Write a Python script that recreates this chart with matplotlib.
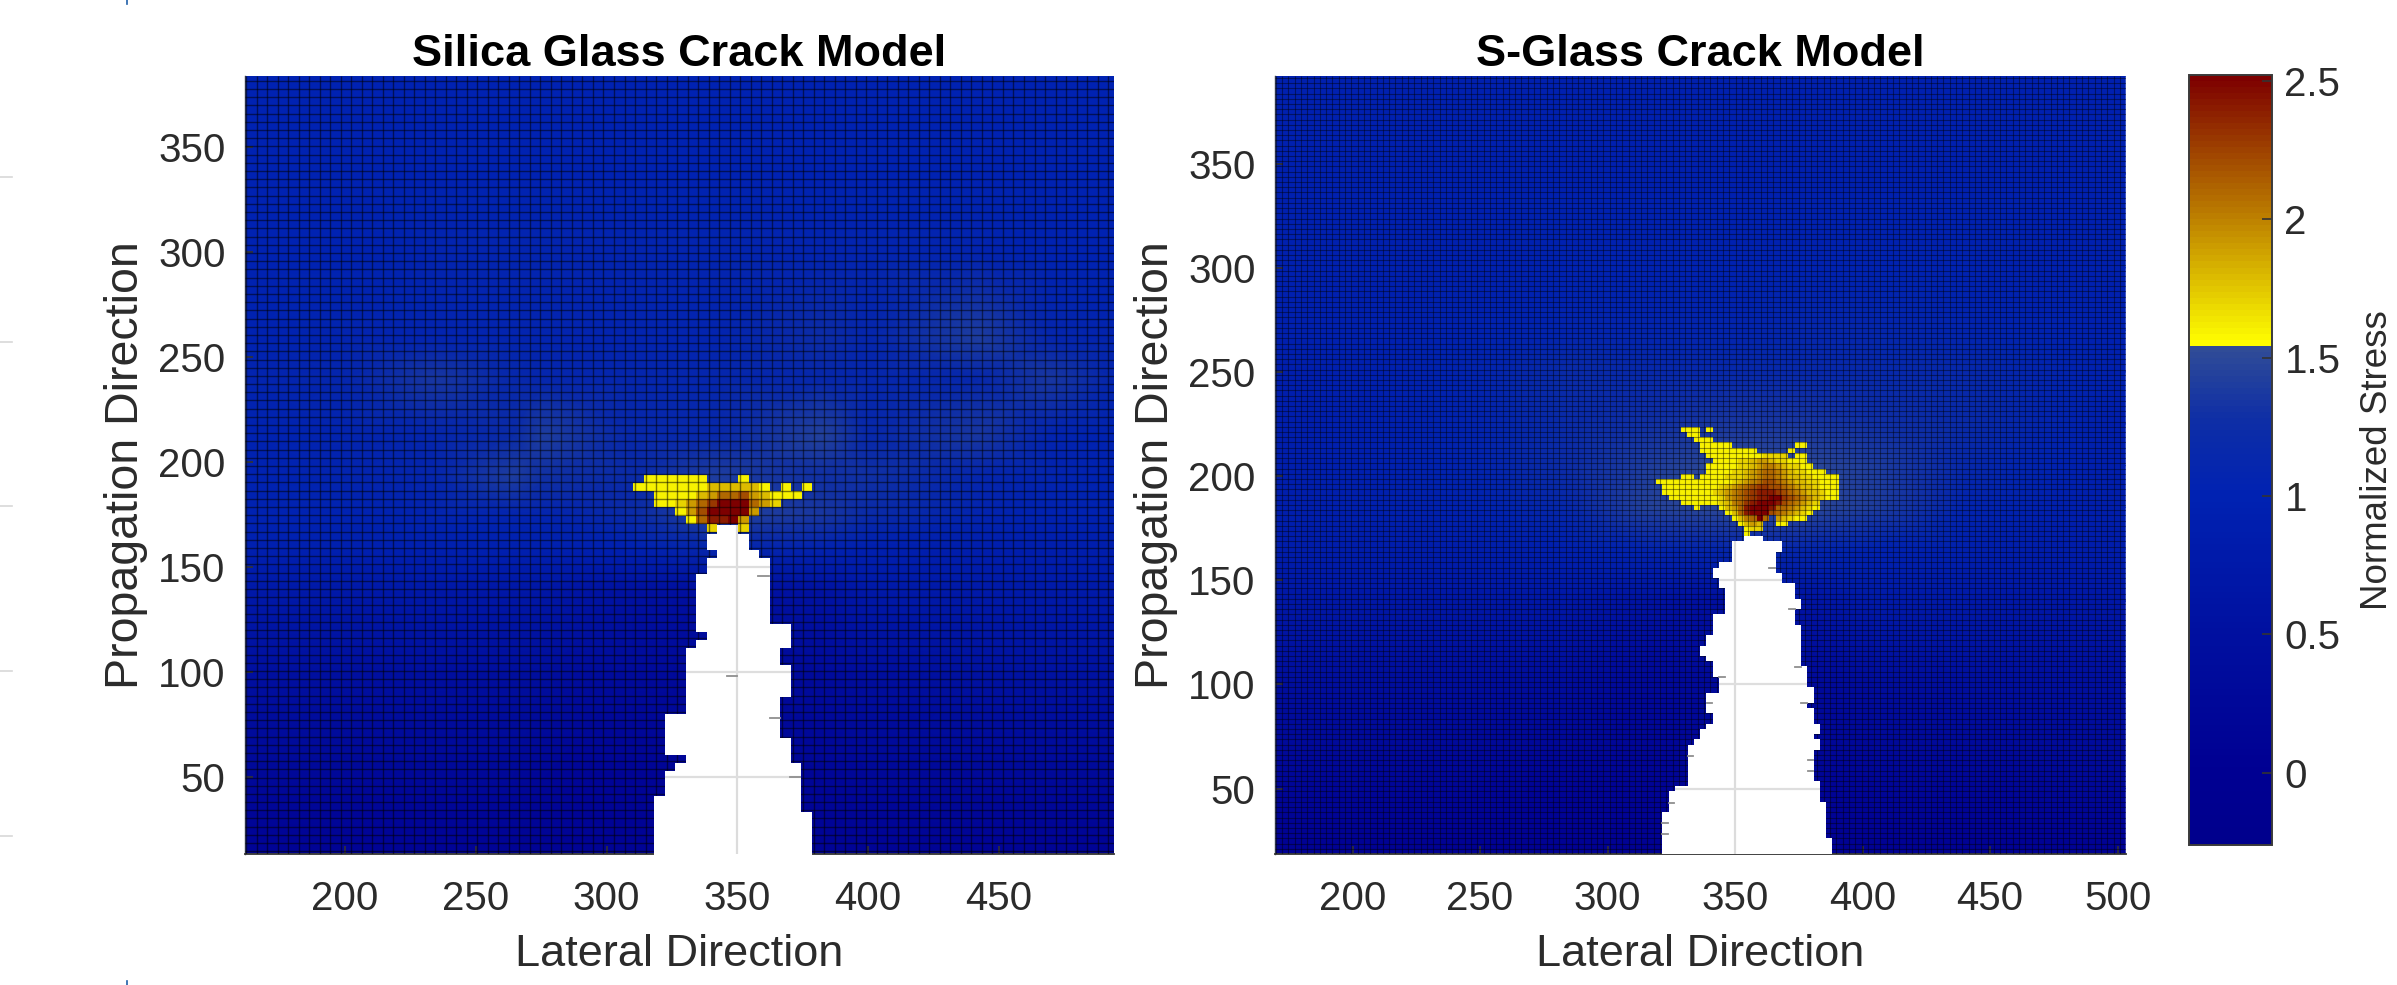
import numpy as np
import matplotlib
matplotlib.use("Agg")
import matplotlib.pyplot as plt
from matplotlib.colors import LinearSegmentedColormap, Normalize
from matplotlib.lines import Line2D

plt.rcParams["font.family"] = ["Liberation Sans", "DejaVu Sans"]

W, H = 2397, 985
TEXT = "#2b2b2b"

# colour limits
VMIN, VMAX, BREAK = -0.26, 2.52, 1.555
cbar_ticks = [0, 0.5, 1, 1.5, 2, 2.5]
cbar_labels = ["0", "0.5", "1", "1.5", "2", "2.5"]

# --- Silica glass: smooth background stress (coarse read-out) ---
silica_bg_x = [162, 200, 234, 264, 276, 310, 340, 383, 400, 442, 470, 494]
silica_bg_y = [14, 50, 100, 140, 160, 175, 193, 213, 240, 259, 300, 340, 384]
silica_bg = [
    [.10, .10, .10, .10, .10, .10, .10, .10, .10, .10, .10, .10],
    [.25, .25, .25, .25, .20, .15, .15, .20, .25, .30, .30, .30],
    [.50, .50, .50, .45, .45, .35, .30, .35, .45, .55, .55, .55],
    [.75, .75, .75, .70, .70, .55, .50, .60, .75, .80, .80, .80],
    [.95, .95, .95, .95, .95, 1.0, 1.15, 1.05, .95, .90, .90, .90],
    [1.0, 1.0, 1.05, 1.05, 1.05, 1.2, 1.45, 1.35, 1.2, 1.05, 1.0, 1.0],
    [1.0, 1.05, 1.1, 1.4, 1.3, 1.2, 1.4, 1.3, 1.3, 1.1, 1.05, 1.0],
    [1.0, 1.05, 1.1, 1.2, 1.4, 1.15, 1.15, 1.45, 1.15, 1.35, 1.05, 1.0],
    [1.05, 1.1, 1.35, 1.15, 1.1, 1.1, 1.1, 1.15, 1.1, 1.15, 1.35, 1.1],
    [1.0, 1.05, 1.05, 1.05, 1.05, 1.05, 1.05, 1.25, 1.1, 1.4, 1.1, 1.05],
    [1.0, 1.0, 1.05, 1.05, 1.05, 1.05, 1.05, 1.05, 1.05, 1.05, 1.0, 1.0],
    [1.0, 1.0, 1.0, 1.0, 1.0, 1.0, 1.0, 1.0, 1.0, 1.0, 1.0, 1.0],
    [1.0, 1.0, 1.0, 1.0, 1.0, 1.0, 1.0, 1.0, 1.0, 1.0, 1.0, 1.0],
]

# hot cells, top row first: '.' = below threshold, digit d = 1.6 + 0.1 * d
silica_hot = [
    ".000000...0......",
    "0000000222220.0.0",
    "..00002355632000.",
    "..001357999531...",
    "....03699993.....",
    ".....058893......",
    ".......1..1......",
]
# crack: first / last white cell edge per row, top row first
silica_crack_l = [6, 5, 5, 6, 5, 5, 4, 4, 4, 4, 4, 4, 4, 5, 4, 3, 3, 3, 3, 3, 3,
                  3, 3, 1, 1, 1, 1, 1, 3, 2, 1, 1, 1, 0, 0, 0, 0, 0, 0, 0, 0]
silica_crack_r = [8, 9, 9, 10, 11, 11, 11, 11, 11, 11, 11, 11, 13, 13, 13, 12, 12, 13, 13, 13, 13,
                  12, 12, 12, 12, 12, 13, 13, 13, 14, 14, 14, 14, 14, 14, 15, 15, 15, 15, 15, 15]
silica_dashes = [(358, 362, 146), (346, 350, 98), (362.4, 366.2, 78), (370, 374, 50)]

# --- S-glass ---
sglass_bg_x = [170, 210, 250, 285, 315, 345, 375, 405, 440, 475, 503]
sglass_bg_y = [19, 50, 100, 140, 165, 185, 205, 225, 250, 270, 300, 345, 392]
sglass_bg = [
    [.05, .05, .05, .05, .05, .05, .05, .05, .05, .05, .05],
    [.20, .20, .20, .15, .15, .15, .15, .20, .20, .25, .25],
    [.45, .45, .45, .40, .30, .30, .30, .40, .50, .50, .50],
    [.70, .70, .70, .70, .60, .50, .60, .80, .75, .70, .70],
    [.85, .85, .90, .95, 1.05, 1.1, 1.1, 1.0, .95, .85, .85],
    [.90, .95, 1.0, 1.15, 1.45, 1.5, 1.5, 1.4, 1.05, .95, .90],
    [.90, .95, 1.05, 1.25, 1.4, 1.5, 1.5, 1.4, 1.15, 1.0, .90],
    [.90, .95, 1.05, 1.2, 1.3, 1.35, 1.35, 1.3, 1.2, 1.05, .90],
    [.90, .95, 1.05, 1.2, 1.15, 1.15, 1.15, 1.15, 1.15, 1.05, .95],
    [.95, .95, 1.0, 1.05, 1.05, 1.05, 1.1, 1.1, 1.05, 1.0, .95],
    [.95, .95, .95, 1.0, 1.0, 1.0, 1.0, 1.0, 1.0, .95, .95],
    [.95, .95, .95, .95, .95, .95, .95, .95, .95, .95, .95],
    [.95, .95, .95, .95, .95, .95, .95, .95, .95, .95, .95],
]
sglass_hot = [
    "....000.0....................",
    ".....00......................",
    "......000....................",
    ".......00000..........00.....",
    ".......000000000.....0.......",
    "........0000000001111.00.....",
    ".........000011233211000.....",
    "........00000112344321100....",
    "........0000112345543211000..",
    "....00.0000111234554322110000",
    "00000000000012345665432211000",
    ".0000000001234567766543221000",
    ".0000000012345678887654322100",
    "..000000001345678899765432100",
    "....0000001245789998654321...",
    "......0...0235899985543210...",
    "...........02589996543210....",
    "............024595.32100.....",
    ".............0232..00........",
    "..............011............",
    "..............0..............",
]
sglass_crack_l = [13, 11, 11, 11, 11, 9, 8, 8, 9, 9, 10, 10, 10, 10, 10, 8, 8, 8, 8, 7, 7,
                  6, 6, 7, 8, 8, 8, 9, 9, 9, 7, 7, 7, 7, 8, 8, 7, 6, 6, 5, 4,
                  4, 4, 4, 4, 4, 4, 4, 2, 1, 1, 1, 1, 0, 0, 0, 0, 0, 0, 0, 0]
sglass_crack_r = [16, 19, 19, 18, 18, 18, 18, 19, 19, 21, 21, 21, 22, 22, 21, 21, 21, 22, 22, 22, 22,
                  22, 22, 22, 22, 23, 23, 23, 23, 24, 24, 24, 23, 24, 24, 24, 25, 25, 24, 25, 25,
                  24, 24, 24, 24, 24, 24, 25, 25, 25, 25, 26, 26, 26, 26, 26, 26, 26, 27, 27, 27]
sglass_dashes = [(363.5, 365.8, 156), (371.2, 373.5, 136), (373.5, 375.8, 108.4), (343.9, 346.1, 103.6),
                 (376, 378.1, 91), (338.9, 341.1, 91), (331.4, 333.7, 65.8), (378.5, 380.7, 63.5),
                 (378.5, 380.7, 58.4), (324, 326.2, 43.2), (321.5, 323.7, 33.3), (321.5, 323.7, 28.4)]

x_ticks = {"silica": [200, 250, 300, 350, 400, 450], "sglass": [200, 250, 300, 350, 400, 450, 500]}
y_ticks = [50, 100, 150, 200, 250, 300, 350]


def cpos(v):
    return (v - VMIN) / (VMAX - VMIN)


cmap = LinearSegmentedColormap.from_list(
    "stress",
    [(0.0, (0, 0, 140 / 255)),
     (cpos(0), (0, 0, 146 / 255)),
     (cpos(0.5), (0, 16 / 255, 160 / 255)),
     (cpos(1.0), (0, 34 / 255, 178 / 255)),
     (cpos(1.28), (14 / 255, 46 / 255, 166 / 255)),
     (cpos(BREAK) - 0.001, (50 / 255, 78 / 255, 150 / 255)),
     (cpos(BREAK), (1, 1, 0)),
     (cpos(2.0), (190 / 255, 130 / 255, 0)),
     (1.0, (125 / 255, 0, 0))],
    N=128,
)
norm = Normalize(VMIN, VMAX)


def axes_px(x0, y0, x1, y1):
    return [x0 / W, 1 - y1 / H, (x1 - x0) / W, (y1 - y0) / H]


def hot_to_array(rows):
    arr = np.full((len(rows), len(rows[0])), np.nan)
    for i, row in enumerate(rows):
        for j, ch in enumerate(row):
            if ch != ".":
                arr[i, j] = 1.6 + 0.1 * int(ch)
    return np.ma.masked_invalid(arr)


def draw_panel(ax, title, xlim, ylim, bg_x, bg_y, bg, grid, hot, hot_origin, crack, dashes, xticks, glw, galpha):
    gx0, gdx, gy0, gdy = grid
    hx0, hy0 = hot_origin
    cx0, cy0, left, right = crack

    ax.pcolormesh(bg_x, bg_y, np.array(bg), shading="gouraud", cmap=cmap, norm=norm, zorder=1)

    arr = hot_to_array(hot)
    hx = hx0 + gdx * np.arange(arr.shape[1] + 1)
    hy = hy0 - gdy * np.arange(arr.shape[0] + 1)
    ax.pcolormesh(hx, hy, arr, cmap=cmap, norm=norm, zorder=2)

    # cell grid
    vx = np.arange(gx0, xlim[1], gdx)
    hy_lines = np.arange(gy0, ylim[1], gdy)
    ax.vlines(vx, *ylim, colors="black", lw=glw, alpha=galpha, zorder=3)
    ax.hlines(hy_lines, *xlim, colors="black", lw=glw, alpha=galpha, zorder=3)

    # crack: white steps, with the axes grid showing only through it
    left = np.array(left)
    right = np.array(right)
    edges = cy0 - gdy * np.arange(len(left) + 1)
    xl = cx0 + gdx * left
    xr = cx0 + gdx * right
    ys = np.repeat(edges, 2)[1:-1]
    patch = ax.fill_betweenx(ys, np.repeat(xl, 2), np.repeat(xr, 2), color="white", lw=0, zorder=4)

    for t in xticks:
        ln = ax.axvline(t, color="#dcdcdc", lw=1.6, zorder=5)
        ln.set_clip_path(patch.get_paths()[0], ax.transData)
    for t in y_ticks:
        ln = ax.axhline(t, color="#dedede", lw=1.6, zorder=5)
        ln.set_clip_path(patch.get_paths()[0], ax.transData)
    for x0, x1, y in dashes:
        ax.plot([x0, x1], [y, y], color="#8f8f8f", lw=1.3, zorder=6)

    ax.set_xlim(xlim)
    ax.set_ylim(ylim)
    ax.set_xticks(xticks)
    ax.set_yticks(y_ticks)
    ax.tick_params(direction="in", length=6, width=1.2, color="#333333", labelsize=29,
                   labelcolor=TEXT)
    ax.tick_params(axis="x", pad=19)
    ax.tick_params(axis="y", pad=14)
    for s in ["top", "right"]:
        ax.spines[s].set_visible(False)
    ax.spines["left"].set_linewidth(1.0)
    ax.spines["left"].set_color("#333a50")
    ax.spines["bottom"].set_linewidth(1.3)
    ax.spines["bottom"].set_color("#333333")
    ax.set_xlabel("Lateral Direction", fontsize=32.5, color=TEXT, labelpad=11)
    ax.set_ylabel("Propagation Direction", fontsize=33.5, color=TEXT, labelpad=7)
    ax.set_title(title, fontsize=32.5, fontweight="bold", color="black", pad=7)


fig = plt.figure(figsize=(W / 100, H / 100), dpi=100, facecolor="white")

ax1 = fig.add_axes(axes_px(245, 76, 1114, 854))
draw_panel(ax1, "Silica Glass Crack Model", (161.7, 494), (13.5, 383.7),
           silica_bg_x, silica_bg_y, silica_bg,
           (162.1, 4.02, 14.8, 3.9), silica_hot, (310.2, 194.0),
           (318.2, 169.9, silica_crack_l, silica_crack_r), silica_dashes,
           x_ticks["silica"], 1.0, 0.5)

ax2 = fig.add_axes(axes_px(1275, 76, 2126, 854))
draw_panel(ax2, "S-Glass Crack Model", (169.6, 503.3), (18.6, 392),
           sglass_bg_x, sglass_bg_y, sglass_bg,
           (169.9, 2.47, 18.6, 2.5), sglass_hot, (319.0, 223.6),
           (321.5, 171.1, sglass_crack_l, sglass_crack_r), sglass_dashes,
           x_ticks["sglass"], 0.8, 0.42)

cax = fig.add_axes(axes_px(2189, 75, 2272, 845))
sm = plt.cm.ScalarMappable(norm=norm, cmap=cmap)
cb = fig.colorbar(sm, cax=cax)
cb.set_ticks(cbar_ticks)
cb.set_ticklabels(cbar_labels)
cax.tick_params(direction="in", length=7, width=1.2, color="#333333", labelsize=29,
                labelcolor=TEXT, pad=9)
cb.outline.set_linewidth(1.4)
cb.outline.set_edgecolor("#3a3a3a")
cb.set_label("Normalized Stress", fontsize=26.5, color=TEXT, labelpad=14)

# stray marks along the page edge of the source image
for y in [177, 342, 506, 671, 836]:
    fig.add_artist(Line2D([0, 12 / W], [1 - y / H] * 2, color="#d8d8d8", lw=1.2))
fig.add_artist(Line2D([127 / W] * 2, [1, 1 - 4 / H], color="#1f5fa8", lw=1.2))
fig.add_artist(Line2D([127 / W] * 2, [0, 4 / H], color="#1f5fa8", lw=1.2))

fig.savefig("out.png", dpi=100)
